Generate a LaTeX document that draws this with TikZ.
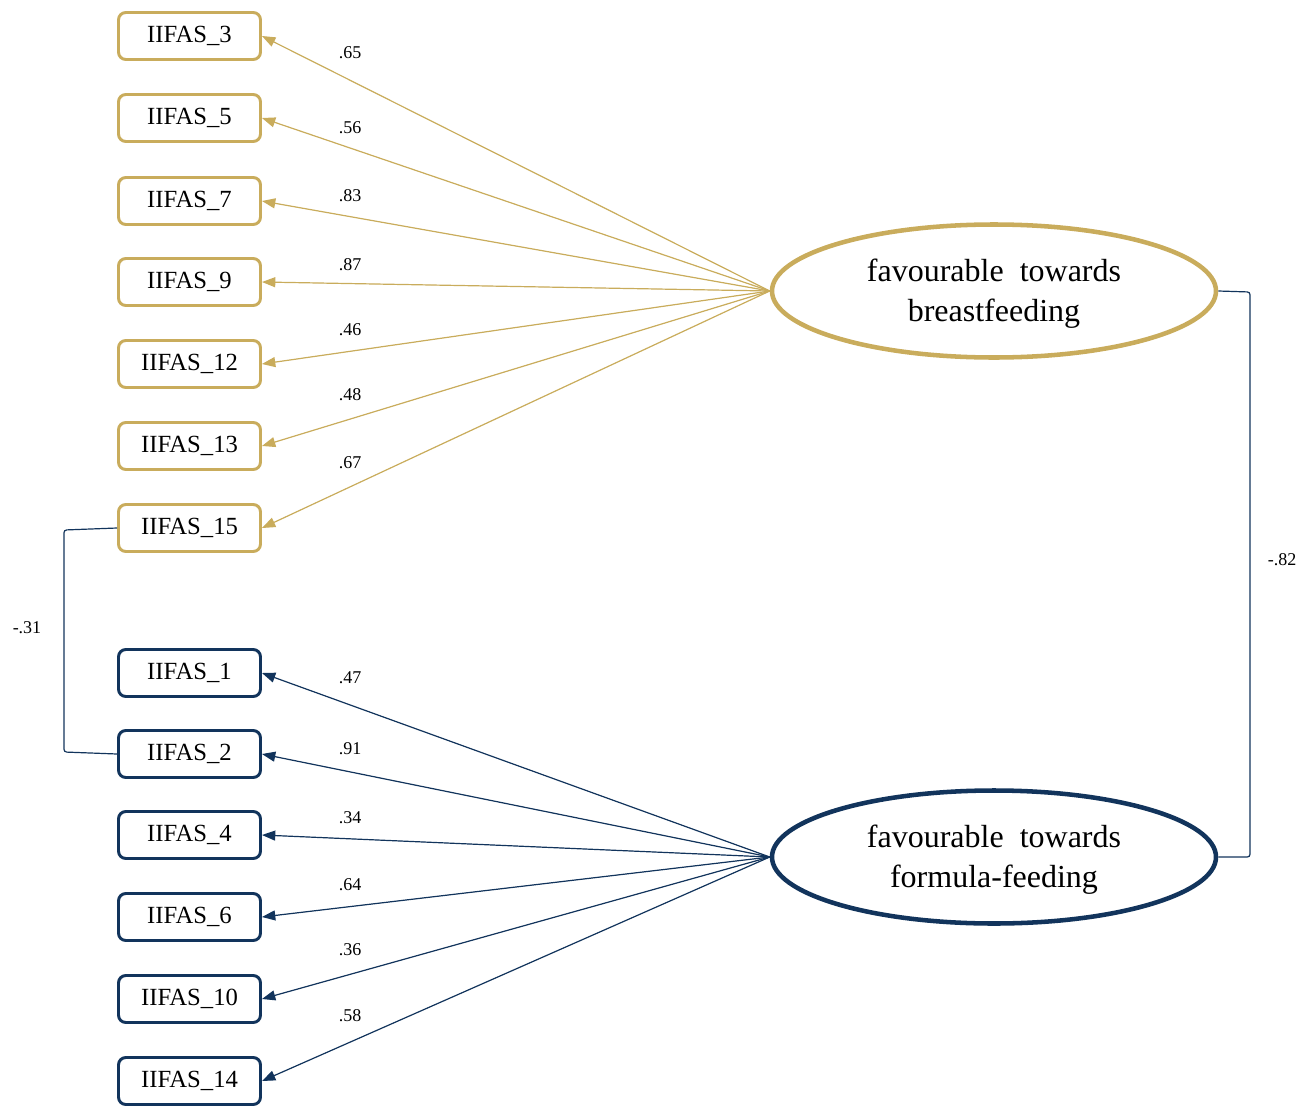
\documentclass[tikz,border=0pt]{standalone}
\usepackage{fontspec}
\setmainfont{Liberation Serif}
\usetikzlibrary{arrows.meta,shapes.geometric}
\definecolor{gold}{RGB}{201,172,92}
\definecolor{navy}{RGB}{18,52,92}
\begin{document}
\begin{tikzpicture}[x=0.75pt,y=-0.75pt,
  itembox/.style={draw, line width=2.2pt, rounded corners=5.5pt, fill=white,
    minimum width=106.5pt, minimum height=35.25pt, inner sep=0pt,
    font=\fontsize{18.5}{22}\selectfont},
  goldbox/.style={itembox, draw=gold},
  navybox/.style={itembox, draw=navy},
  factor/.style={draw, ellipse, line width=3.4pt, fill=white, inner sep=0pt,
    minimum width=333pt, minimum height=99.75pt},
  ftext/.style={align=center, inner sep=0pt, font=\fontsize{24}{30}\selectfont},
  load/.style={-{Triangle[length=10pt,width=7.5pt]}, line width=0.9pt},
  lab/.style={font=\fontsize{13.5}{15}\selectfont, inner sep=0pt},
  corr/.style={draw=navy, line width=0.9pt, rounded corners=2pt}
]
\useasboundingbox (0,0) rectangle (1306,1106);

% factors
\node[factor, draw=gold] (bf) at (994,291) {};
\node[ftext] (bft) at (994,294) {favourable\hspace{0.5em}towards\\breastfeeding};
\node[factor, draw=navy] (ff) at (994,857) {};
\node[ftext] (fft) at (994,860) {favourable\hspace{0.5em}towards\\formula-feeding};

% gold items
\node[goldbox] (b3)  at (189.5,36)  {IIFAS\_3};
\node[goldbox] (b5)  at (189.5,118) {IIFAS\_5};
\node[goldbox] (b7)  at (189.5,201) {IIFAS\_7};
\node[goldbox] (b9)  at (189.5,282) {IIFAS\_9};
\node[goldbox] (b12) at (189.5,364) {IIFAS\_12};
\node[goldbox] (b13) at (189.5,446) {IIFAS\_13};
\node[goldbox] (b15) at (189.5,528) {IIFAS\_15};

% navy items
\node[navybox] (n1)  at (189.5,673)  {IIFAS\_1};
\node[navybox] (n2)  at (189.5,754)  {IIFAS\_2};
\node[navybox] (n4)  at (189.5,835)  {IIFAS\_4};
\node[navybox] (n6)  at (189.5,917)  {IIFAS\_6};
\node[navybox] (n10) at (189.5,999)  {IIFAS\_10};
\node[navybox] (n14) at (189.5,1081) {IIFAS\_14};

% loadings
\foreach \t in {b3,b5,b7,b9,b12,b13,b15}
  \draw[load, draw=gold, fill=gold] (bf.west) -- (\t.east);
\foreach \t in {n1,n2,n4,n6,n10,n14}
  \draw[load, draw=navy, fill=navy] (ff.west) -- (\t.east);

% loading labels
\node[lab] (l3)  at (350,53)  {.65};
\node[lab] (l5)  at (350,128) {.56};
\node[lab] (l7)  at (350,196) {.83};
\node[lab] (l9)  at (350,265) {.87};
\node[lab] (l12) at (350,330) {.46};
\node[lab] (l13) at (350,395) {.48};
\node[lab] (l15) at (350,463) {.67};
\node[lab] (l1)  at (350,678) {.47};
\node[lab] (l2)  at (350,749) {.91};
\node[lab] (l4)  at (350,818) {.34};
\node[lab] (l6)  at (350,885) {.64};
\node[lab] (l10) at (350,950) {.36};
\node[lab] (l14) at (350,1016) {.58};

% correlations
\coordinate (rtop) at (1250,292);
\coordinate (rbot) at (1250,857);
\draw[corr] (bf.east) -- (rtop) -- (rbot) -- (ff.east);
\node[lab] (r82) at (1282,560) {-.82};

\coordinate (ltop) at (64,530);
\coordinate (lbot) at (64,752);
\draw[corr] (b15.west) -- (ltop) -- (lbot) -- (n2.west);
\node[lab] (r31) at (27,628) {-.31};
\end{tikzpicture}
\end{document}
